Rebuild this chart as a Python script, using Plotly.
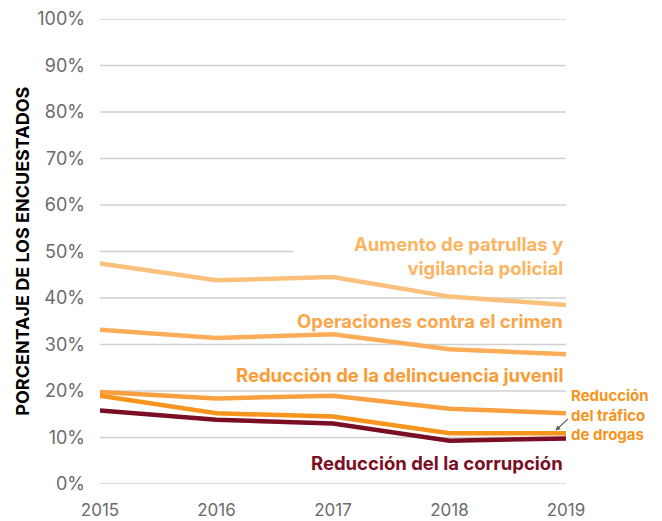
import plotly.graph_objects as go

years = [2015, 2016, 2017, 2018, 2019]
aumento = [47.4, 43.8, 44.5, 40.3, 38.5]
operaciones = [33.2, 31.4, 32.2, 29.0, 27.9]
delincuencia = [19.8, 18.4, 19.0, 16.2, 15.2]
trafico = [19.0, 15.2, 14.5, 10.9, 10.9]
corrupcion = [15.8, 13.8, 13.0, 9.3, 9.8]

y_ticks = [0, 10, 20, 30, 40, 50, 60, 70, 80, 90, 100]
y_tick_labels = [f"{v}%" for v in y_ticks]
x_tick_labels = [str(y) for y in years]

series = [
    ("Aumento de patrullas y<br>vigilancia policial", aumento, "#FBC07C"),
    ("Operaciones contra el crimen", operaciones, "#FBAD5A"),
    ("Reducción de la delincuencia juvenil", delincuencia, "#F9A140"),
    ("Reducción<br>del tráfico<br>de drogas", trafico, "#F7941D"),
    ("Reducción del la corrupción", corrupcion, "#7A0E24"),
]

FONT = "Inter"

fig = go.Figure()

# gridlines
for v in y_ticks:
    x1 = 0.414 if v == 50 else 1.0
    fig.add_shape(type="line", xref="paper", yref="y", x0=0, x1=x1, y0=v, y1=v,
                  line=dict(color="#D0D0D0", width=1.5), layer="below")

for name, vals, color in series:
    fig.add_trace(go.Scatter(x=years, y=vals, mode="lines", name=name,
                             line=dict(color=color, width=4.5), showlegend=False,
                             hoverinfo="skip"))

ann_bold = dict(family=FONT, size=18.5, weight="bold")
fig.add_annotation(x=2019, y=49.0, xref="x", yref="y", xanchor="right", yanchor="middle",
                   text="Aumento de patrullas y<br>vigilancia policial", showarrow=False,
                   align="right", font=dict(**ann_bold, color="#FBB462"), xshift=-1)
fig.add_annotation(x=2019, y=35.0, xref="x", yref="y", xanchor="right", yanchor="middle",
                   text="Operaciones contra el crimen", showarrow=False,
                   align="right", font=dict(**ann_bold, color="#FBA64A"), xshift=-1)
fig.add_annotation(x=2019, y=23.4, xref="x", yref="y", xanchor="right", yanchor="middle",
                   text="Reducción de la delincuencia juvenil", showarrow=False,
                   align="right", font=dict(**ann_bold, color="#F99C35"), xshift=-1)
fig.add_annotation(x=2019, y=4.6, xref="x", yref="y", xanchor="right", yanchor="middle",
                   text="Reducción del la corrupción", showarrow=False,
                   align="right", font=dict(**ann_bold, color="#7A0E24"), xshift=-1)
fig.add_annotation(x=2019, y=14.8, xref="x", yref="y", xanchor="left", yanchor="middle",
                   text="Reducción<br>del tráfico<br>de drogas", showarrow=False,
                   align="left", font=dict(family=FONT, size=15, weight="bold", color="#F7941D"),
                   xshift=3)
# pointer arrow
fig.add_annotation(x=2018.91, y=11.5, xref="x", yref="y", ax=14, ay=-13,
                   text="", showarrow=True, arrowhead=2, arrowsize=0.8, arrowwidth=1.2,
                   arrowcolor="#555555")

# y axis title
fig.add_annotation(x=-0.167, y=0.5, xref="paper", yref="paper", text="PORCENTAJE DE LOS ENCUESTADOS",
                   textangle=-90, showarrow=False, xanchor="center", yanchor="middle",
                   font=dict(family=FONT, size=18, weight="bold", color="#000000"))

fig.update_layout(
    width=662, height=521,
    margin=dict(l=100, r=96, t=19, b=37, autoexpand=False),
    paper_bgcolor="white", plot_bgcolor="white",
    font=dict(family=FONT, color="#6b6b6b"),
)
fig.update_xaxes(range=[2015, 2019], tickvals=years, ticktext=x_tick_labels, showgrid=False,
                 zeroline=False, showline=False, ticks="", ticklabelstandoff=14, automargin=False,
                 tickfont=dict(family=FONT, size=17, color="#6b6b6b"), fixedrange=True)
fig.update_yaxes(range=[0, 100], tickvals=y_ticks, ticktext=y_tick_labels, showgrid=False,
                 zeroline=False, showline=False, ticks="", ticklabelstandoff=14, automargin=False,
                 tickfont=dict(family=FONT, size=18, color="#6b6b6b"), fixedrange=True)

fig.write_html("out.html", config={"displayModeBar": False},
               post_script="document.body.style.margin='0';document.body.style.padding='0';")
